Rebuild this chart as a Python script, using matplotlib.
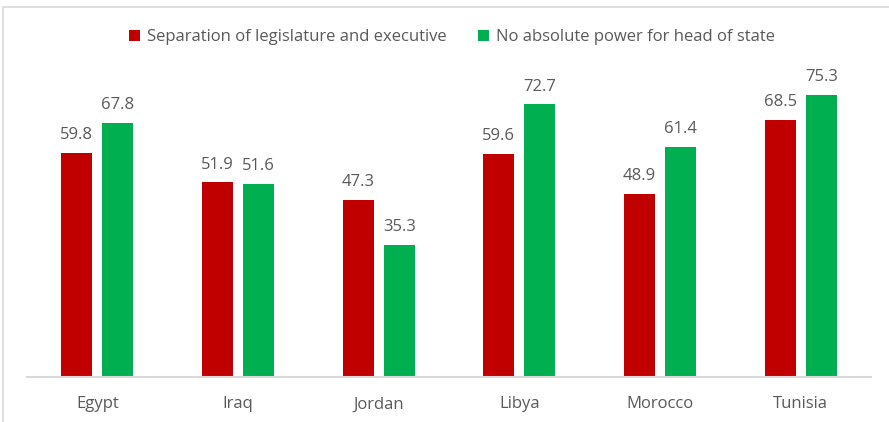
import matplotlib.pyplot as plt
import numpy as np
from matplotlib.patches import Rectangle

countries = ['Egypt', 'Iraq', 'Jordan', 'Libya', 'Morocco', 'Tunisia']
separation = [59.8, 51.9, 47.3, 59.6, 48.9, 68.5]
no_absolute = [67.8, 51.6, 35.3, 72.7, 61.4, 75.3]
labels = ['Separation of legislature and executive', 'No absolute power for head of state']
colors = ['#c00000', '#00b050']

plt.rcParams['font.family'] = ['Open Sans', 'DejaVu Sans']
txt = '#595959'

W, H = 889, 422
fig = plt.figure(figsize=(W / 100, H / 100), dpi=100)

# light grey frame around chart area
fig.patches.append(Rectangle((3 / W, -0.1), 1.0, 1 - 7 / H + 0.1, transform=fig.transFigure,
                             fill=False, edgecolor='#d9d9d9', linewidth=1.2))

ax = fig.add_axes([27 / W, 1 - 377 / H, (871 - 27) / W, (377 - 39.5) / H])

x = np.arange(len(countries))
w = 0.22
off = 0.146
b1 = ax.bar(x - off, separation, w, color=colors[0], label=labels[0])
b2 = ax.bar(x + off, no_absolute, w, color=colors[1], label=labels[1])

for bars in (b1, b2):
    for b in bars:
        ax.annotate(f'{b.get_height():.1f}', (b.get_x() + b.get_width() / 2, b.get_height()),
                    xytext=(0, 7), textcoords='offset points', ha='center', va='bottom',
                    fontsize=12, color=txt)

ax.set_xlim(-0.5, len(countries) - 0.5)
ax.set_ylim(0, 90)
ax.set_xticks(x)
ax.set_xticklabels(countries, fontsize=12, color=txt)
ax.tick_params(axis='x', length=0, pad=14)
ax.set_yticks([])
for s in ['top', 'right', 'left']:
    ax.spines[s].set_visible(False)
ax.spines['bottom'].set_color('#d9d9d9')
ax.spines['bottom'].set_linewidth(1.5)

leg = fig.legend(loc='center', bbox_to_anchor=(452 / W, 1 - 37 / H), ncol=2, frameon=False,
                 fontsize=12, handlelength=0.65, handleheight=0.65, handletextpad=0.4,
                 columnspacing=1.9)
for t in leg.get_texts():
    t.set_color(txt)

fig.savefig('out.png', dpi=100)
